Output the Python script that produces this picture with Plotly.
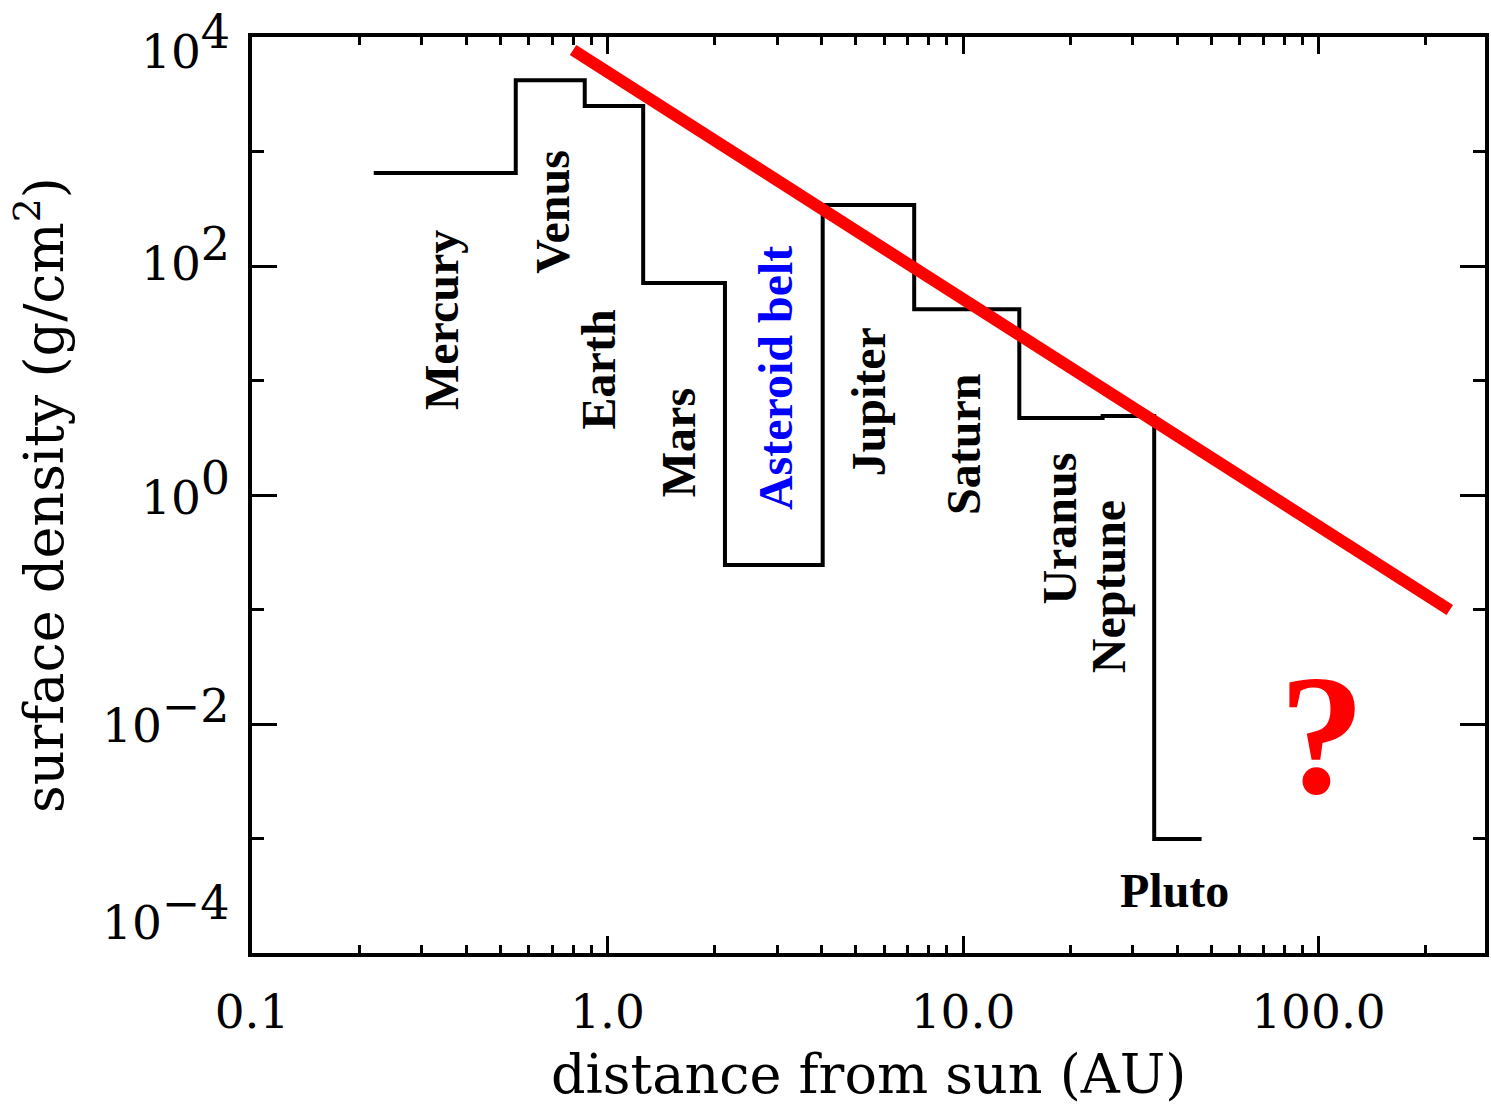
import numpy as np
import plotly.graph_objects as go

# ---------------- data ----------------
planets = ["Mercury", "Venus", "Earth", "Mars", "Asteroid belt",
           "Jupiter", "Saturn", "Uranus", "Neptune", "Pluto"]
# zone boundaries (AU): inner edge of each zone, last value = outer edge of Pluto zone
zone_edges = [0.22, 0.552, 0.863, 1.26, 2.14, 4.03, 7.29, 14.4, 24.7, 34.5, 46.9]
# surface density in each zone (g/cm^2)
surface_density = [650, 4200, 2500, 71, 0.245, 341, 42, 4.7, 4.9, 0.00099]

# red power-law line (endpoints)
powerlaw_x = [0.80, 234]
powerlaw_y = [7700, 0.099]

# axis ticks
x_tickvals = [0.1, 1, 10, 100]
x_ticktext = ["0.1", "1.0", "10.0", "100.0"]
x_minor = [0.2, 0.3, 0.4, 0.5, 0.6, 0.7, 0.8, 0.9,
           2, 3, 4, 5, 6, 7, 8, 9,
           20, 30, 40, 50, 60, 70, 80, 90, 200]
y_exponents = [4, 2, 0, -2, -4]
y_minor = [1e3, 1e1, 1e-1, 1e-3]
x_range = [0.1, 294]
y_range = [1e-4, 1e4]

# ---------------- label placement (style, not data) ----------------
label_pos = {  # (x in AU, y in g/cm^2) centre of each label
    "Mercury": (0.340, 33.7),
    "Venus": (0.697, 296),
    "Earth": (0.944, 12.4),
    "Mars": (1.58, 2.84),
    "Asteroid belt": (2.96, 10.5),
    "Jupiter": (5.42, 6.48),
    "Saturn": (10.06, 2.79),
    "Uranus": (18.7, 0.505),
    "Neptune": (25.6, 0.157),
    "Pluto": (39.3, 3.55e-4),
}
ytick_label_shift = [-5, 12, 7, 8, 40]

HERSHEY = "DejaVu Serif"
TIMES = "Liberation Serif"

fig = go.Figure()

step_x = zone_edges
step_y = surface_density + [surface_density[-1]]
fig.add_trace(go.Scatter(x=step_x, y=step_y, mode="lines",
                         line=dict(shape="hv", color="black", width=4),
                         hoverinfo="skip", showlegend=False))
fig.add_trace(go.Scatter(x=powerlaw_x, y=powerlaw_y, mode="lines",
                         line=dict(color="#ff0000", width=12),
                         hoverinfo="skip", showlegend=False))

annotations = []
for name in planets:
    px, py = label_pos[name]
    annotations.append(dict(
        x=np.log10(px), y=np.log10(py), xref="x", yref="y",
        text=name, showarrow=False,
        textangle=0 if name == "Pluto" else -90,
        xanchor="center", yanchor="middle",
        font=dict(family=TIMES, size=48, weight="bold",
                  color="#0000ff" if name == "Asteroid belt" else "black")))

annotations.append(dict(
    x=np.log10(102), y=np.log10(0.0080), xref="x", yref="y",
    text="?", showarrow=False, xanchor="center", yanchor="middle",
    font=dict(family=TIMES, size=172, weight="bold", color="#ff0000")))

# y tick labels (exponent printed nearly full size, as in the original)
for e, sh in zip(y_exponents, ytick_label_shift):
    exp_txt = str(e).replace("-", "\u2212")
    annotations.append(dict(
        x=0, y=e, xref="paper", yref="y", xanchor="right", yanchor="middle",
        xshift=-20, yshift=sh, showarrow=False,
        text="10<sup><span style='font-size:46px'>%s</span></sup>" % exp_txt,
        font=dict(family=HERSHEY, size=47, color="black")))

# axis titles
annotations.append(dict(
    x=0.5, y=0, xref="paper", yref="paper", xanchor="center", yanchor="middle",
    yshift=-121, showarrow=False, text="distance from sun (AU)",
    font=dict(family=HERSHEY, size=54, color="black")))
annotations.append(dict(
    x=0, y=0.5, xref="paper", yref="paper", xanchor="center", yanchor="middle",
    xshift=-212, showarrow=False, textangle=-90,
    text="surface density (g/cm<sup>2</sup>)",
    font=dict(family=HERSHEY, size=54, color="black")))

fig.update_layout(
    width=1491, height=1110,
    margin=dict(l=252, r=2, t=37, b=157, pad=0),
    paper_bgcolor="white", plot_bgcolor="white",
    showlegend=False,
    annotations=annotations,
    xaxis=dict(type="log", range=[np.log10(x_range[0]), np.log10(x_range[1])],
               tickmode="array", tickvals=x_tickvals, ticktext=x_ticktext,
               ticks="inside", ticklen=17, tickwidth=3, tickcolor="black",
               showline=True, linecolor="black", linewidth=4, mirror="ticks",
               showgrid=False, zeroline=False,
               ticklabelstandoff=15,
               tickfont=dict(family=HERSHEY, size=47, color="black"),
               minor=dict(tickmode="array", tickvals=x_minor, ticks="inside",
                          ticklen=8, tickwidth=3, tickcolor="black", showgrid=False)),
    yaxis=dict(type="log", range=[np.log10(y_range[0]), np.log10(y_range[1])],
               tickmode="array", tickvals=[10.0 ** e for e in y_exponents],
               showticklabels=False,
               ticks="inside", ticklen=25, tickwidth=3, tickcolor="black",
               showline=True, linecolor="black", linewidth=4, mirror="ticks",
               showgrid=False, zeroline=False,
               minor=dict(tickmode="array", tickvals=y_minor, ticks="inside",
                          ticklen=12, tickwidth=3, tickcolor="black", showgrid=False)),
)

fig.write_html("out.html")
